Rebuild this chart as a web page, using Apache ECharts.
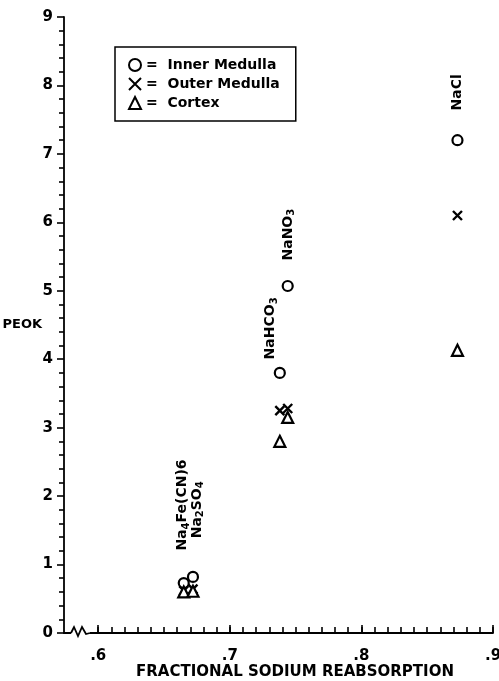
<!DOCTYPE html>
<html><head><meta charset="utf-8">
<script src="https://cdn.jsdelivr.net/npm/echarts@6/dist/echarts.min.js"></script>
<style>html,body{margin:0;padding:0;background:#fff}#c{width:499px;height:681px}</style>
</head><body><div id="c"></div>
<script>
const compounds = ['Na4Fe(CN)6', 'Na2SO4', 'NaHCO3', 'NaNO3', 'NaCl'];
const compoundLabels = ['Na{s|4}Fe(CN)6', 'Na{s|2}SO{s|4}', 'NaHCO{s|3}', 'NaNO{s|3}', 'NaCl'];
const reabsorption = [0.665, 0.672, 0.738, 0.744, 0.873];
const innerMedulla = [0.73, 0.82, 3.8, 5.07, 7.2];
const outerMedulla = [0.62, 0.64, 3.25, 3.28, 6.1];
const cortex = [0.6, 0.61, 2.8, 3.15, 4.13];
const labelX = [0.664, 0.675, 0.731, 0.7445, 0.873];
const labelY = [1.87, 1.8, 4.45, 5.82, 7.9];
const xTickLabels = [0.6, 0.7, 0.8, 0.9];
const yTicks = [0, 1, 2, 3, 4, 5, 6, 7, 8, 9];

const minorX = [];
for (let i = 60; i <= 90; i++) minorX.push(i / 100);

const F = 'DejaVu Sans';
const pairs = vals => vals.map((v, i) => [reabsorption[i], v]);
const chart = echarts.init(document.getElementById('c'));
const XMIN = 0.574, XMAX = 0.9;
const mark = {color: '#fff', borderColor: '#000', borderWidth: 2.2, opacity: 1};
chart.setOption({
  animation: false,
  backgroundColor: '#fff',
  grid: {left: 64, right: 6, top: 17, bottom: 48, containLabel: false, outerBoundsMode: 'none'},
  legend: {
    orient: 'vertical', left: 115, top: 47,
    borderColor: '#000', borderWidth: 1.5, padding: [11, 16, 11, 13],
    itemWidth: 12, itemHeight: 12, itemGap: 5,
    formatter: n => '=  ' + n,
    textStyle: {fontFamily: F, fontWeight: 'bold', fontSize: 14, color: '#000'},
    data: ['Inner Medulla', 'Outer Medulla', 'Cortex']
  },
  xAxis: [{
    type: 'value', min: XMIN, max: XMAX,
    name: 'FRACTIONAL SODIUM REABSORPTION', nameLocation: 'middle', nameGap: 32, nameMoveOverlap: false,
    nameTextStyle: {fontFamily: F, fontWeight: 'bold', fontSize: 15, color: '#000', padding: [0, 0, 0, 33]},
    axisLine: {lineStyle: {color: '#000', width: 1.8}},
    axisTick: {inside: true, length: 8, customValues: xTickLabels, lineStyle: {color: '#000', width: 1.6}},
    axisLabel: {customValues: xTickLabels, margin: 16, fontFamily: F, fontWeight: 'bold', fontSize: 15, color: '#000',
      formatter: v => String(v).replace(/^0/, '')},
    splitLine: {show: false}
  }, {
    type: 'value', min: XMIN, max: XMAX, position: 'bottom',
    axisLine: {show: false},
    axisTick: {inside: true, length: 6, customValues: minorX, lineStyle: {color: '#000', width: 1.6}},
    axisLabel: {show: false}, splitLine: {show: false}
  }],
  yAxis: {
    type: 'value', min: 0, max: 9, interval: 1,
    name: 'PEOK', nameLocation: 'middle', nameRotate: 0, nameGap: 22, nameMoveOverlap: false,
    nameTextStyle: {fontFamily: F, fontWeight: 'bold', fontSize: 13, color: '#000', align: 'right', verticalAlign: 'middle'},
    axisLine: {show: true, lineStyle: {color: '#000', width: 1.8}},
    axisTick: {length: 7, customValues: yTicks, lineStyle: {color: '#000', width: 1.6}},
    minorTick: {show: true, splitNumber: 5, length: 5, lineStyle: {color: '#000', width: 1.6}},
    axisLabel: {margin: 11, fontFamily: F, fontWeight: 'bold', fontSize: 15, color: '#000'},
    splitLine: {show: false}
  },
  series: [{
    name: 'Inner Medulla', type: 'scatter', symbol: 'circle', symbolSize: 10,
    itemStyle: mark, data: pairs(innerMedulla)
  }, {
    name: 'Outer Medulla', type: 'scatter', symbol: 'path://M0,0L10,10M10,0L0,10', symbolSize: 9,
    itemStyle: {color: '#000', borderColor: '#000', borderWidth: 2.4, opacity: 1},
    data: pairs(outerMedulla)
  }, {
    name: 'Cortex', type: 'scatter', symbol: 'triangle', symbolSize: 11,
    itemStyle: mark, data: pairs(cortex)
  }, {
    name: 'labels', type: 'scatter', symbolSize: 0, silent: true,
    data: compoundLabels.map((t, i) => ({value: [labelX[i], labelY[i]], name: compounds[i]})),
    label: {
      show: true, position: 'inside', rotate: 90,
      formatter: p => compoundLabels[p.dataIndex],
      fontFamily: F, fontWeight: 'bold', fontSize: 14, color: '#000', opacity: 1,
      rich: {s: {fontFamily: F, fontWeight: 'bold', fontSize: 10, color: '#000', verticalAlign: 'bottom', padding: [7, 0, 0, 0]}}
    }
  }]
});

const y0 = chart.convertToPixel({yAxisIndex: 0}, 0);
const xs = chart.convertToPixel({xAxisIndex: 0}, XMIN);
chart.setOption({graphic: [
  {type: 'rect', shape: {x: xs + 7, y: y0 - 2, width: 19, height: 4}, style: {fill: '#fff'}, z: 100},
  {type: 'polyline', z: 101, shape: {points: [[xs + 7, y0], [xs + 10, y0 - 6], [xs + 14, y0 + 3], [xs + 18, y0 - 6], [xs + 22, y0 + 1], [xs + 26, y0]]},
   style: {stroke: '#000', lineWidth: 1.8, fill: null}}
]});
</script></body></html>
